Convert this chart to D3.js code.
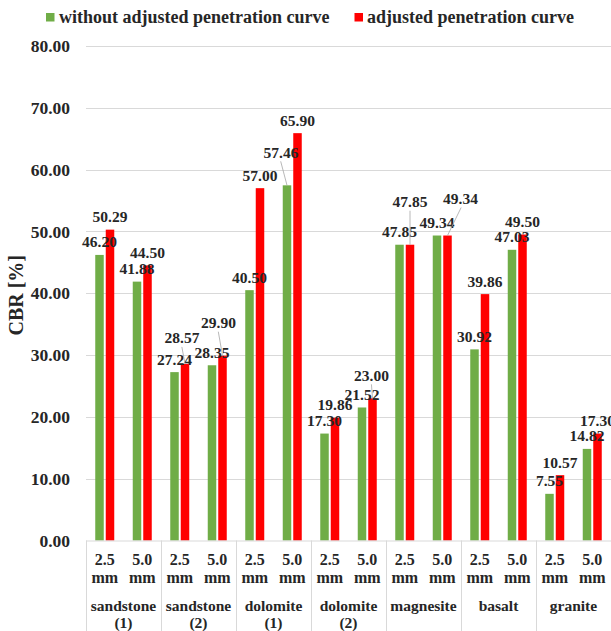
<!DOCTYPE html>
<html>
<head>
<meta charset="utf-8">
<script src="https://cdn.jsdelivr.net/npm/d3@7"></script>
<style>
  html, body { margin: 0; padding: 0; background: #fff; }
  svg { display: block; }
  text { font-family: "Liberation Serif", "Times New Roman", serif; font-weight: bold; fill: #262626; }
</style>
</head>
<body>
<svg id="chart" width="611" height="631"></svg>
<script>
// ---- data ----
const groups = ["sandstone (1)", "sandstone (2)", "dolomite (1)", "dolomite (2)", "magnesite", "basalt", "granite"];
const depths = ["2.5 mm", "5.0 mm"];
const seriesNames = ["without adjusted penetration curve", "adjusted penetration curve"];
const withoutAdjusted = [46.20, 41.88, 27.24, 28.35, 40.50, 57.46, 17.30, 21.52, 47.85, 49.34, 30.92, 47.03, 7.55, 14.82];
const adjusted = [50.29, 44.50, 28.57, 29.90, 57.00, 65.90, 19.86, 23.00, 47.85, 49.34, 39.86, 49.50, 10.57, 17.30];
const yTicks = [0, 10, 20, 30, 40, 50, 60, 70, 80];

// label displacements (layout only): [series, index, dx, dy]
const labelMoves = [
  [0, 5, -6, -20],
  [1, 2, -3, -13],
  [1, 3, -4, -20],
  [1, 7, -1, -10],
  [1, 8, 0, -30],
  [1, 9, 13, -24]
];

const colors = ["#70AD47", "#FF0000"];

(function () {
const svg = d3.select("#chart");
const W = 611, H = 631;
const pLeft = 86, pRight = 611, pTop = 46, base = 540.5;

const cats = [];
groups.forEach(g => depths.forEach(d => cats.push(g + "|" + d)));

const x = d3.scaleBand().domain(cats).range([pLeft, pRight]).paddingInner(0).paddingOuter(0);
const xg = d3.scaleBand().domain(groups).range([pLeft, pRight]);
const y = d3.scaleLinear().domain([0, 80]).range([base, pTop]);

// gridlines
svg.append("g").selectAll("line").data(yTicks.slice(1)).join("line")
  .attr("x1", pLeft).attr("x2", pRight)
  .attr("y1", d => Math.round(y(d)) + 0.5).attr("y2", d => Math.round(y(d)) + 0.5)
  .attr("stroke", "#d9d9d9").attr("stroke-width", 1);

// y axis labels
const yAxis = d3.axisLeft(y).tickValues(yTicks).tickFormat(d3.format(".2f")).tickSize(0).tickPadding(16);
const ya = svg.append("g").attr("transform", `translate(${pLeft},0)`).call(yAxis);
ya.select(".domain").remove();
ya.selectAll("text").attr("font-size", "17.5px").attr("font-family", "Liberation Serif").attr("font-weight", "bold").attr("fill", "#262626");

// y title
svg.append("text").attr("transform", `translate(23,${(pTop + base) / 2 + 2}) rotate(-90)`)
  .attr("text-anchor", "middle").attr("font-size", "20px").text("CBR [%]");

// bars
const bw = 8.5, gap = 2;
const series = [withoutAdjusted, adjusted];
const barX = (s, i) => {
  const c = x(cats[i]) + x.bandwidth() / 2;
  return s === 0 ? c - gap / 2 - bw : c + gap / 2;
};
series.forEach((vals, s) => {
  svg.append("g").selectAll("rect").data(vals).join("rect")
    .attr("x", (d, i) => barX(s, i))
    .attr("width", bw)
    .attr("y", d => y(d))
    .attr("height", d => base - y(d))
    .attr("fill", colors[s]);
});

// x axis baseline and separators
svg.append("line").attr("x1", pLeft).attr("x2", pRight).attr("y1", base + 0.5).attr("y2", base + 0.5)
  .attr("stroke", "#d9d9d9");
const seps = groups.map(g => xg(g)).concat([pRight - 0.5]);
svg.append("g").selectAll("line").data(seps).join("line")
  .attr("x1", d => Math.round(d) + 0.5).attr("x2", d => Math.round(d) + 0.5)
  .attr("y1", base).attr("y2", H)
  .attr("stroke", "#d9d9d9");

// sub labels
const sub = svg.append("g");
cats.forEach(c => {
  const cx = x(c) + x.bandwidth() / 2;
  const parts = c.split("|")[1].split(" ");
  sub.append("text").attr("x", cx).attr("y", 565).attr("text-anchor", "middle").attr("font-size", "16px").text(parts[0]);
  sub.append("text").attr("x", cx).attr("y", 583).attr("text-anchor", "middle").attr("font-size", "16px").text(parts[1]);
});
groups.forEach(g => {
  const cx = xg(g) + xg.bandwidth() / 2;
  const m = g.match(/^(.*?)\s*(\(\d\))?$/);
  svg.append("text").attr("x", cx).attr("y", 611).attr("text-anchor", "middle").attr("font-size", "15.5px").text(m[1]);
  if (m[2]) svg.append("text").attr("x", cx).attr("y", 628).attr("text-anchor", "middle").attr("font-size", "15.5px").text(m[2]);
});

// data labels
const fmt = d3.format(".2f");
const lab = svg.append("g");
series.forEach((vals, s) => {
  vals.forEach((v, i) => {
    const bx = barX(s, i) + bw / 2;
    const by = y(v);
    let cx = bx, cy = by - 13;
    const mv = labelMoves.find(m => m[0] === s && m[1] === i);
    if (mv) {
      cx += mv[2]; cy += mv[3];
      lab.append("line").attr("x1", cx + mv[2] * 0.05).attr("y1", cy + 9).attr("x2", bx).attr("y2", by)
        .attr("stroke", "#a6a6a6").attr("stroke-width", 0.8);
    }
    lab.append("text").attr("x", cx).attr("y", cy).attr("dy", "0.35em")
      .attr("text-anchor", "middle").attr("font-size", "15.5px").text(fmt(v));
  });
});

// legend
const leg = [[46, 59], [354.5, 367]];
seriesNames.forEach((n, s) => {
  svg.append("rect").attr("x", leg[s][0]).attr("y", 13).attr("width", 8.5).attr("height", 8.5).attr("fill", colors[s]);
  svg.append("text").attr("x", leg[s][1]).attr("y", 23).attr("font-size", "18px").text(n);
});
})();
</script>
</body>
</html>
